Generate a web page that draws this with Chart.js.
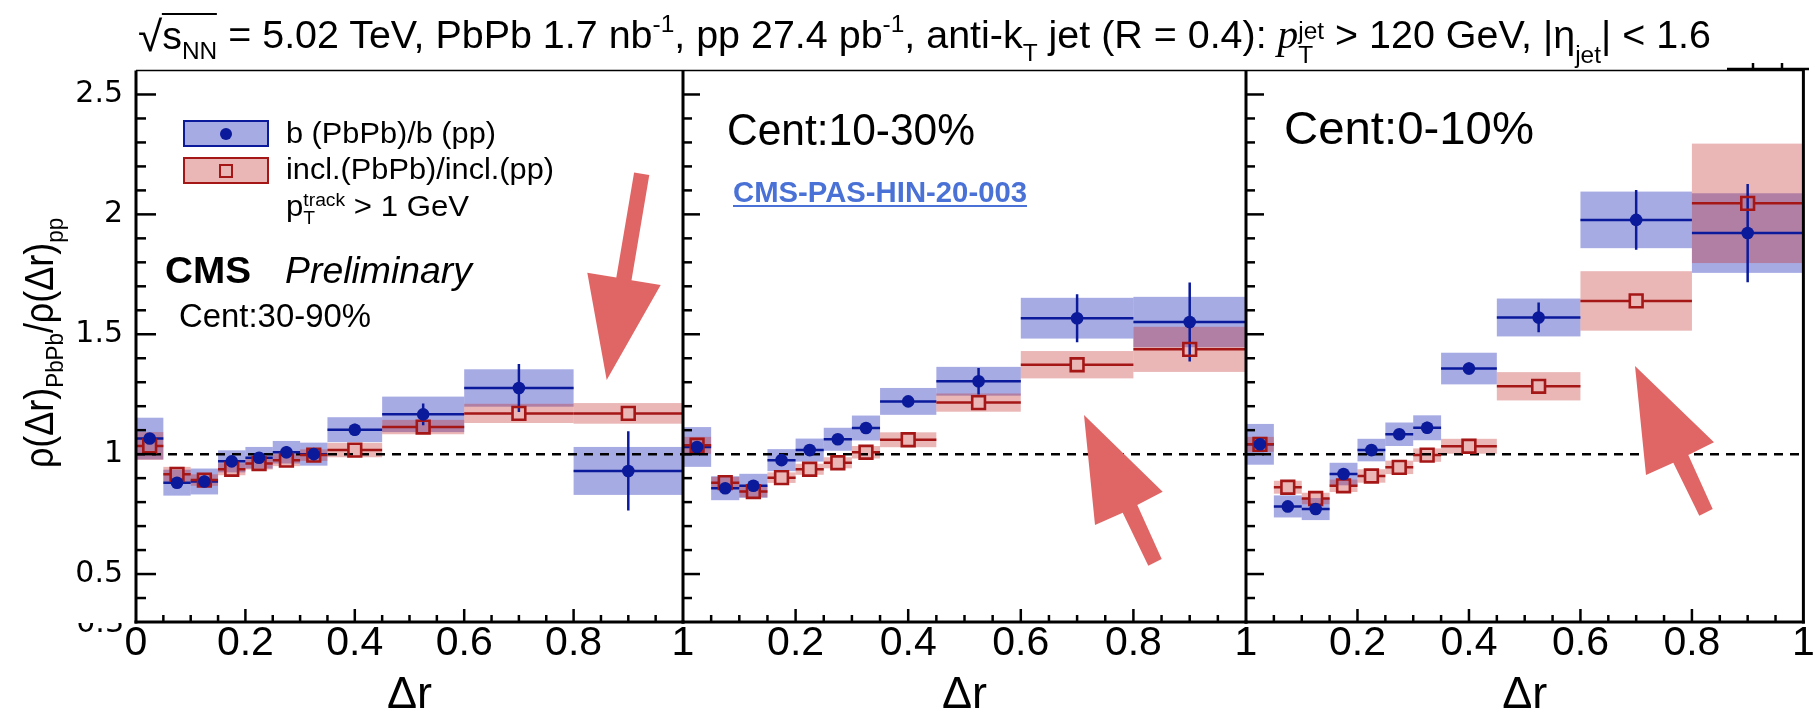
<!DOCTYPE html>
<html>
<head>
<meta charset="utf-8">
<title>CMS b-jet shape ratio PbPb/pp</title>
<script src="https://cdn.jsdelivr.net/npm/chart.js@4.4.1/dist/chart.umd.min.js"></script>
<style>
html,body{margin:0;padding:0;background:#fff;}
#wrap{position:relative;width:1815px;height:712px;overflow:hidden;background:#fff;font-family:"Liberation Sans",Arial,sans-serif;color:#000;}
canvas{position:absolute;left:0;top:0;}
svg{position:absolute;left:0;top:0;}
.t{position:absolute;white-space:nowrap;line-height:1;transform-origin:0 50%;}
.t sub,.t sup{font-size:0.62em;line-height:0;}
.t sub{vertical-align:-0.38em;}
.t sup{vertical-align:0.72em;}
.stack{display:inline-block;font-size:0.62em;line-height:1.0;vertical-align:-0.45em;text-align:left;}
.stack span{display:block;}
.lbox{position:absolute;box-sizing:border-box;}
</style>
</head>
<body>
<div id="wrap">
  <canvas id="c1" width="1815" height="712"></canvas>
  <canvas id="c2" width="1815" height="712"></canvas>
  <canvas id="c3" width="1815" height="712"></canvas>

  <svg width="1815" height="712" viewBox="0 0 1815 712">
    <polygon fill="#e06666" points="634.1,172.5 649.3,175.1 631.5,280.2 660.7,285 606.7,380 587.3,272.7 616.3,277.6"/>
    <polygon fill="#e06666" points="1084,415 1162.7,491.7 1137.3,505 1161.7,559 1148.3,565.7 1122.7,512.7 1095,525"/>
    <polygon fill="#e06666" points="1635,366 1714,442.3 1688.3,455 1712.7,509 1699.3,515.7 1673.3,462.7 1646,475"/>
    <g stroke="#000" stroke-width="2.5">
      <line x1="1727" y1="69" x2="1809" y2="69"/>
      <line x1="1753" y1="69" x2="1753" y2="63"/>
      <line x1="1782" y1="69" x2="1782" y2="63"/>
    </g>
  </svg>

  <!-- title -->
  <div id="title" class="t"><span style="font-size:1.12em;vertical-align:-0.06em">√</span><span style="border-top:2px solid #000;">s<sub style="vertical-align:-0.42em">NN</sub></span> = 5.02 TeV, PbPb 1.7 nb<sup>-1</sup>, pp 27.4 pb<sup>-1</sup>, anti-k<sub style="vertical-align:-0.55em">T</sub> jet (R = 0.4): <i style="font-family:'Liberation Serif',serif;font-size:1.05em">p</i><span class="stack" style="vertical-align:-0.6em"><span>jet</span><span>T</span></span> &gt; 120 GeV, |η<sub style="vertical-align:-0.62em">jet</sub>| &lt; 1.6</div>

  <!-- y axis title -->
  <div id="ytitle" class="t" style="font-size:40px;transform-origin:50% 50%;">ρ(Δr)<sub>PbPb</sub>/ρ(Δr)<sub>pp</sub></div>

  <!-- partially hidden 0.3 label -->
  <div style="position:absolute;left:70px;top:623px;width:56px;height:9px;overflow:hidden;">
    <div style="position:absolute;right:2px;top:-16px;font-family:'DejaVu Sans',sans-serif;font-size:30px;line-height:30px;">0.3</div>
  </div>

  <!-- legend -->
  <div class="lbox" style="left:183px;top:119.5px;width:86px;height:27.5px;background:rgba(35,45,185,0.40);border:2px solid #0a1a9a;"></div>
  <div class="lbox" style="left:220px;top:127.5px;width:12px;height:12px;border-radius:50%;background:#0a1a9a;"></div>
  <div class="lbox" style="left:183px;top:157px;width:86px;height:27px;background:rgba(195,45,45,0.35);border:2px solid #a51616;"></div>
  <div class="lbox" style="left:219px;top:163.5px;width:14px;height:14px;border:2.5px solid #a51616;"></div>
  <div id="leg1" class="t">b (PbPb)/b (pp)</div>
  <div id="leg2" class="t">incl.(PbPb)/incl.(pp)</div>
  <div id="leg3" class="t">p<span class="stack"><span>track</span><span>T</span></span> &gt; 1 GeV</div>

  <div id="cms" class="t" style="font-weight:bold;">CMS</div>
  <div id="prelim" class="t" style="font-style:italic;">Preliminary</div>
  <div id="cent1" class="t">Cent:30-90%</div>
  <div id="cent2" class="t">Cent:10-30%</div>
  <div id="link" class="t" style="font-weight:bold;color:#4a72d6;text-decoration:underline;text-decoration-thickness:2px;text-underline-offset:3px;">CMS-PAS-HIN-20-003</div>
  <div id="cent3" class="t">Cent:0-10%</div>
</div>

<script>
// ---------------- data ----------------
const binEdges   = [0, 0.05, 0.1, 0.15, 0.2, 0.25, 0.3, 0.35, 0.45, 0.6, 0.8, 1.0];
const binCenters = [0.025, 0.075, 0.125, 0.175, 0.225, 0.275, 0.325, 0.4, 0.525, 0.7, 0.9];
const xTickValues = [0, 0.2, 0.4, 0.6, 0.8, 1];
const yTickValues = [0.5, 1, 1.5, 2, 2.5];

// Cent:30-90%
const bPeriph        = [1.065, 0.881, 0.886, 0.970, 0.985, 1.008, 1.000, 1.102, 1.166, 1.276, 0.930];
const bPeriphStat    = [0.020, 0.020, 0.025, 0.020, 0.020, 0.025, 0.025, 0.025, 0.045, 0.100, 0.165];
const bPeriphSys     = [0.087, 0.054, 0.054, 0.046, 0.045, 0.047, 0.048, 0.052, 0.074, 0.078, 0.100];
const inclPeriph     = [1.034, 0.916, 0.892, 0.937, 0.961, 0.975, 0.996, 1.017, 1.113, 1.170, 1.170];
const inclPeriphStat = [0.005, 0.005, 0.005, 0.004, 0.004, 0.004, 0.004, 0.004, 0.005, 0.006, 0.008];
const inclPeriphSys  = [0.058, 0.031, 0.024, 0.025, 0.025, 0.025, 0.024, 0.030, 0.030, 0.040, 0.043];

// Cent:10-30%
const bMid        = [1.030, 0.858, 0.868, 0.975, 1.017, 1.062, 1.109, 1.220, 1.304, 1.567, 1.551];
const bMidStat    = [0.020, 0.015, 0.015, 0.015, 0.015, 0.015, 0.020, 0.020, 0.055, 0.100, 0.165];
const bMidSys     = [0.083, 0.050, 0.050, 0.046, 0.048, 0.048, 0.052, 0.056, 0.060, 0.085, 0.105];
const inclMid     = [1.037, 0.881, 0.844, 0.902, 0.937, 0.964, 1.008, 1.060, 1.215, 1.373, 1.437];
const inclMidStat = [0.005, 0.005, 0.005, 0.005, 0.005, 0.005, 0.005, 0.005, 0.006, 0.008, 0.012];
const inclMidSys  = [0.035, 0.024, 0.024, 0.022, 0.023, 0.023, 0.026, 0.031, 0.038, 0.057, 0.094];

// Cent:0-10%
const bCent        = [1.041, 0.782, 0.771, 0.917, 1.017, 1.083, 1.110, 1.357, 1.570, 1.977, 1.922];
const bCentStat    = [0.020, 0.015, 0.015, 0.015, 0.015, 0.015, 0.025, 0.025, 0.062, 0.125, 0.205];
const bCentSys     = [0.085, 0.046, 0.046, 0.047, 0.047, 0.049, 0.052, 0.066, 0.079, 0.118, 0.166];
const inclCent     = [1.041, 0.862, 0.815, 0.868, 0.909, 0.945, 0.996, 1.033, 1.283, 1.639, 2.046];
const inclCentStat = [0.005, 0.005, 0.005, 0.005, 0.005, 0.005, 0.005, 0.005, 0.008, 0.012, 0.030];
const inclCentSys  = [0.031, 0.027, 0.024, 0.026, 0.028, 0.028, 0.028, 0.031, 0.059, 0.124, 0.249];

// ---------------- styles ----------------
const BLUE_LINE = '#0a1a9a', RED_LINE = '#a51616';
const BLUE_FILL = 'rgba(35,45,185,0.40)', RED_FILL = 'rgba(195,45,45,0.35)';

function errPlugin(series, opt) {
  return {
    id: 'errs',
    beforeDatasetsDraw(chart) {
      const {ctx, chartArea: a, scales: {x, y}} = chart;
      ctx.save();
      ctx.beginPath(); ctx.rect(a.left, a.top, a.right - a.left, a.bottom - a.top); ctx.clip();
      // systematic boxes
      series.forEach(s => {
        ctx.fillStyle = s.fill;
        s.vals.forEach((v, i) => {
          const x0 = x.getPixelForValue(binEdges[i]), x1 = x.getPixelForValue(binEdges[i + 1]);
          const y0 = y.getPixelForValue(v + s.sys[i]), y1 = y.getPixelForValue(v - s.sys[i]);
          ctx.fillRect(x0, y0, x1 - x0, y1 - y0);
        });
      });
      // reference line at 1
      const py1 = y.getPixelForValue(1);
      ctx.setLineDash([9, 7]); ctx.lineWidth = 2.5; ctx.strokeStyle = '#000';
      ctx.beginPath(); ctx.moveTo(a.left, py1); ctx.lineTo(a.right, py1); ctx.stroke();
      ctx.setLineDash([]);
      // bin-width lines and stat error bars
      series.forEach(s => {
        ctx.strokeStyle = s.line; ctx.lineWidth = 2.5;
        s.vals.forEach((v, i) => {
          const xc = x.getPixelForValue(binCenters[i]);
          const x0 = x.getPixelForValue(binEdges[i]), x1 = x.getPixelForValue(binEdges[i + 1]);
          const yc = y.getPixelForValue(v);
          const yt = y.getPixelForValue(v + s.stat[i]), yb = y.getPixelForValue(v - s.stat[i]);
          const g = s.gap;
          ctx.beginPath();
          ctx.moveTo(x0, yc); ctx.lineTo(xc - g, yc);
          ctx.moveTo(xc + g, yc); ctx.lineTo(x1, yc);
          if (yc - yt > g) { ctx.moveTo(xc, yt); ctx.lineTo(xc, yc - g); }
          if (yb - yc > g) { ctx.moveTo(xc, yc + g); ctx.lineTo(xc, yb); }
          ctx.stroke();
        });
      });
      ctx.restore();
    },
    afterDraw(chart) {
      const {ctx, chartArea: a, scales: {x, y}} = chart;
      ctx.save();
      ctx.strokeStyle = '#000';
      const line = (x0, y0, x1, y1) => { ctx.beginPath(); ctx.moveTo(x0, y0); ctx.lineTo(x1, y1); ctx.stroke(); };
      // thin top frame
      ctx.lineWidth = 1.5;
      line(a.left, a.top, a.right, a.top);
      // ticks
      ctx.lineWidth = 2.5;
      for (let k = 4; k <= 25; k++) {
        const py = y.getPixelForValue(k / 10);
        line(a.left, py, a.left + (k % 5 === 0 ? opt.yMajor : opt.yMinor), py);
      }
      for (let k = 1; k < 20; k++) {
        const px = x.getPixelForValue(k * 0.05);
        line(px, a.bottom, px, a.bottom - (k % 4 === 0 ? 13 : 7));
      }
      // axes
      ctx.lineWidth = 3;
      line(a.left, a.top, a.left, a.bottom + 1.5);
      line(a.left - 1.5, a.bottom, a.right + 1.5, a.bottom);
      if (opt.last) line(a.right, a.top - 2, a.right, a.bottom + 1.5);
      ctx.restore();
    }
  };
}

function panelConfig(p) {
  const series = [
    {vals: p.b, stat: p.bStat, sys: p.bSys, fill: BLUE_FILL, line: BLUE_LINE, gap: 0},
    {vals: p.incl, stat: p.inclStat, sys: p.inclSys, fill: RED_FILL, line: RED_LINE, gap: 7}
  ];
  return {
    type: 'scatter',
    data: {
      datasets: [
        {label: 'b (PbPb)/b (pp)', data: binCenters.map((c, i) => ({x: c, y: p.b[i]})),
         pointStyle: 'circle', pointRadius: 6.3, pointBackgroundColor: BLUE_LINE, pointBorderColor: BLUE_LINE, pointBorderWidth: 0},
        {label: 'incl.(PbPb)/incl.(pp)', data: binCenters.map((c, i) => ({x: c, y: p.incl[i]})),
         pointStyle: 'rect', pointRadius: 9, pointBackgroundColor: 'rgba(0,0,0,0)', pointBorderColor: RED_LINE, pointBorderWidth: 2.6}
      ]
    },
    options: {
      responsive: false, animation: false, devicePixelRatio: 1, events: [],
      layout: {padding: {left: p.padL, right: p.padR, top: 70.5, bottom: 0}},
      plugins: {legend: {display: false}, tooltip: {enabled: false}},
      scales: {
        x: {
          type: 'linear', min: 0, max: 1, position: 'bottom',
          afterBuildTicks: s => { s.ticks = xTickValues.map(v => ({value: v})); },
          afterFit: s => { s.height = 90; s.paddingLeft = 0; s.paddingRight = 0; },
          ticks: {
            callback: v => (p.hideZero && v === 0) ? '' : String(v),
            font: {family: 'Liberation Sans', size: 41, lineHeight: 1}, color: '#000',
            padding: 1, maxRotation: 0, minRotation: 0, autoSkip: false
          },
          title: {display: true, text: 'Δr', color: '#000',
                  font: {family: 'Liberation Sans', size: 45, lineHeight: 0.75}, padding: {top: 0, bottom: 0}},
          grid: {display: false, drawTicks: false}, border: {display: false}
        },
        y: {
          type: 'linear', min: 0.3, max: 2.6, position: 'left', display: p.yLabels,
          afterBuildTicks: s => { s.ticks = yTickValues.map(v => ({value: v})); },
          afterFit: s => { if (p.yLabels) s.width = 136; },
          ticks: {callback: v => String(v), font: {family: 'DejaVu Sans', size: 30, lineHeight: 1}, color: '#000', padding: 13},
          grid: {display: false, drawTicks: false}, border: {display: false}
        }
      }
    },
    plugins: [errPlugin(series, {last: p.last, yMajor: p.yMajor, yMinor: p.yMinor})]
  };
}

new Chart(document.getElementById('c1'), panelConfig({
  b: bPeriph, bStat: bPeriphStat, bSys: bPeriphSys, incl: inclPeriph, inclStat: inclPeriphStat, inclSys: inclPeriphSys,
  padL: 0, padR: 1132, yLabels: true, hideZero: false, last: false, yMajor: 20, yMinor: 10}));
new Chart(document.getElementById('c2'), panelConfig({
  b: bMid, bStat: bMidStat, bSys: bMidSys, incl: inclMid, inclStat: inclMidStat, inclSys: inclMidSys,
  padL: 683, padR: 569, yLabels: false, hideZero: true, last: false, yMajor: 17, yMinor: 9}));
new Chart(document.getElementById('c3'), panelConfig({
  b: bCent, bStat: bCentStat, bSys: bCentSys, incl: inclCent, inclStat: inclCentStat, inclSys: inclCentSys,
  padL: 1246, padR: 6, yLabels: false, hideZero: true, last: true, yMajor: 18, yMinor: 9}));

// ---------------- text placement ----------------
function place(id, left, capCenter, size, width) {
  const el = document.getElementById(id);
  el.style.fontSize = size + 'px';
  el.style.left = left + 'px';
  el.style.top = (capCenter - 0.49 * size) + 'px';
  if (width) {
    const w = el.getBoundingClientRect().width;
    el.style.transform = 'scaleX(' + (width / w) + ')';
  }
}
place('title', 138, 34, 38, 1573);
place('leg1', 286, 133, 29, 210);
place('leg2', 286, 169.5, 29, 268);
place('leg3', 286, 205.5, 29, 183);
place('cms', 165, 270, 37.5, 86);
place('prelim', 285, 270, 37, 187);
place('cent1', 179, 315, 33, 192);
place('cent2', 727, 129.5, 44, 248);
place('link', 733, 192.5, 29, 294);
place('cent3', 1284, 127, 47, 250);

(function () {
  const yt = document.getElementById('ytitle');
  const w = yt.offsetWidth, h = yt.offsetHeight;
  yt.style.left = (39 - w / 2) + 'px';
  yt.style.top = (343 - h / 2) + 'px';
  yt.style.transform = 'rotate(-90deg) scaleX(' + (250 / w) + ')';
})();
</script>
</body>
</html>
